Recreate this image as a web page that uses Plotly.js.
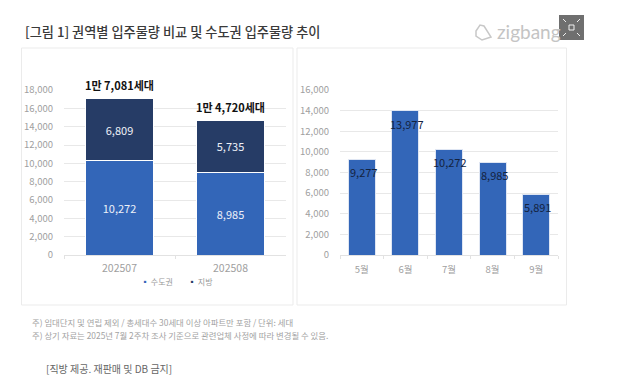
<!DOCTYPE html>
<html><head><meta charset="utf-8">
<script src="https://cdn.plot.ly/plotly-3.0.1.min.js"></script>
<style>html,body{margin:0;padding:0;background:#fff;overflow:hidden}#c{width:624px;height:387px}</style>
</head><body><div id="c"></div>
<script>
const FONT = '"Noto Sans CJK KR","Noto Sans",sans-serif';
const W = 624, H = 387;
const periods = ['202507', '202508'];
const capital = [10272, 8985];
const regional = [6809, 5735];
const totals = [17081, 14720];
const totalLabels = ['1만 7,081세대', '1만 4,720세대'];
const months = ['5월', '6월', '7월', '8월', '9월'];
const monthly = [9277, 13977, 10272, 8985, 5891];
const leftTicks = [0,2000,4000,6000,8000,10000,12000,14000,16000,18000];
const rightTicks = [0,2000,4000,6000,8000,10000,12000,14000,16000];
const BLUE = '#3366b8', NAVY = '#263c66';
const fmt = v => v.toLocaleString('en-US');
const px = x => x / W, py = y => 1 - y / H;
const paperRect = (x0,y0,x1,y1,fill,line) => ({type:'rect',xref:'paper',yref:'paper',x0:px(x0),x1:px(x1),y0:py(y0),y1:py(y1),fillcolor:fill,line:{color:line||fill,width:line?1:0},layer:'below'});
const paperLine = (x0,y0,x1,y1,c,w,layer) => ({type:'line',xref:'paper',yref:'paper',x0:px(x0),x1:px(x1),y0:py(y0),y1:py(y1),line:{color:c,width:w||1},layer:layer||'above'});
const paperText = (x,y,text,size,color,anchor,extra) => Object.assign({xref:'paper',yref:'paper',x:px(x),y:py(y),text,showarrow:false,xanchor:anchor||'left',yanchor:'middle',font:{family:FONT,size,color}},extra||{});

const barText = {family:FONT,size:11,color:'#eef1f8'};
const traces = [
 {type:'bar',x:periods,y:capital,name:'수도권',xaxis:'x',yaxis:'y',marker:{color:BLUE,line:{color:'#fff',width:1}},text:capital.map(fmt),textposition:'inside',insidetextanchor:'middle',constraintext:'none',textangle:0,insidetextfont:barText,hoverinfo:'skip'},
 {type:'bar',x:periods,y:regional,name:'지방',xaxis:'x',yaxis:'y',marker:{color:NAVY,line:{color:'#fff',width:1}},text:regional.map(fmt),textposition:'inside',insidetextanchor:'middle',constraintext:'none',textangle:0,insidetextfont:barText,hoverinfo:'skip'},
 {type:'bar',x:months,y:monthly,name:'입주물량',xaxis:'x2',yaxis:'y2',marker:{color:BLUE,line:{color:'#dfe6f3',width:1}},hoverinfo:'skip'}
];
const tickFont = {family:FONT,size:9.5,color:'#a0a0a0'};
const axX = {type:'category',tickson:'boundaries',ticks:'outside',ticklen:3,tickcolor:'#e2e2e2',showline:true,linecolor:'#e2e2e2',showgrid:false,tickangle:0,fixedrange:true,automargin:false};
const axY = {showgrid:true,gridcolor:'#e8e8e8',gridwidth:1,zeroline:false,showline:false,ticks:'',tickformat:',d',tickfont:tickFont,ticklabelstandoff:10,fixedrange:true,automargin:false};
const yDomain = [py(255), py(90)];

const annotations = [
 ...totalLabels.map((t,i)=>({xref:'x',yref:'y',x:i,y:totals[i],yshift:13,text:t,showarrow:false,yanchor:'middle',font:{family:FONT,size:11,color:'#111',weight:600}})),
 ...monthly.map((v,i)=>({xref:'x2',yref:'y2',x:i,y:v,yshift:-13,xshift:1.5,text:fmt(v),showarrow:false,yanchor:'middle',font:{family:FONT,size:11,color:'#14233f'}})),
 paperText(139,281,'<span style="color:'+BLUE+'">▪</span> 수도권',8,'#999'),
 paperText(186,281,'<span style="color:'+NAVY+'">▪</span> 지방',8,'#999'),
 paperText(30,322,'주) 임대단지 및 연립 제외 / 총세대수 30세대 이상 아파트만 포함 / 단위: 세대',8.4,'#a2a2a2'),
 paperText(30,335,'주) 상기 자료는 2025년 7월 2주차 조사 기준으로 관련업체 사정에 따라 변경될 수 있음.',8.4,'#a2a2a2'),
 paperText(44,368,'[직방 제공. 재판매 및 DB 금지]',10,'#666'),
];
const logo = {xref:'paper',yref:'paper',x:px(495),y:py(32),text:'zigbang',showarrow:false,xanchor:'left',yanchor:'middle',font:{family:'Lato,"Open Sans",sans-serif',size:19,color:'#c4c4c4'}};
annotations.push(logo);
const shapes = [
 paperRect(21.5,48,293,305,'#fff','#ebebeb'),
 paperRect(297,48,566.5,305,'#fff','#ebebeb'),
 {type:'path',xref:'paper',yref:'paper',path:'M'+[[476,31],[480,25],[484,26],[491,37],[482,40],[476,36]].map(p=>px(p[0])+','+py(p[1])).join(' L')+' Z',line:{color:'#c8c8c8',width:1.5},fillcolor:'rgba(0,0,0,0)'},
 Object.assign(paperRect(559,15,584,40,'#6f6f6f'),{layer:'above'}),
 Object.assign(paperRect(569,25,574,30,'rgba(0,0,0,0)','#f0f0f0'),{layer:'above'}),
 paperLine(563,19,566,22,'#f0f0f0',1), paperLine(580,19,577,22,'#f0f0f0',1),
 paperLine(563,36,566,33,'#f0f0f0',1), paperLine(580,36,577,33,'#f0f0f0',1)
];
const layout = {
 width:W,height:H,margin:{l:0,r:0,t:0,b:0},paper_bgcolor:'#fff',plot_bgcolor:'rgba(0,0,0,0)',
 barmode:'stack',bargap:0.385,showlegend:false,
 title:{text:'[그림 1] 권역별 입주물량 비교 및 수도권 입주물량 추이',x:px(25),xanchor:'left',y:py(32),yanchor:'middle',font:{family:FONT,size:13.2,color:'#3a3a3a',weight:500}},
 xaxis:Object.assign({},axX,{domain:[px(64),px(286)],anchor:'y',range:[-0.5,1.5],ticklabelstandoff:3,tickfont:{family:FONT,size:10.5,color:'#a0a0a0'}}),
 yaxis:Object.assign({},axY,{domain:yDomain,range:[0,18000],tickvals:leftTicks,anchor:'x'}),
 xaxis2:Object.assign({},axX,{domain:[px(340),px(558)],anchor:'y2',range:[-0.5,4.5],ticklabelstandoff:6,tickfont:tickFont}),
 yaxis2:Object.assign({},axY,{domain:yDomain,range:[0,16000],tickvals:rightTicks,anchor:'x2'}),
 annotations,shapes
};
Plotly.newPlot('c',traces,layout,{displayModeBar:false,staticPlot:true});
</script></body></html>
